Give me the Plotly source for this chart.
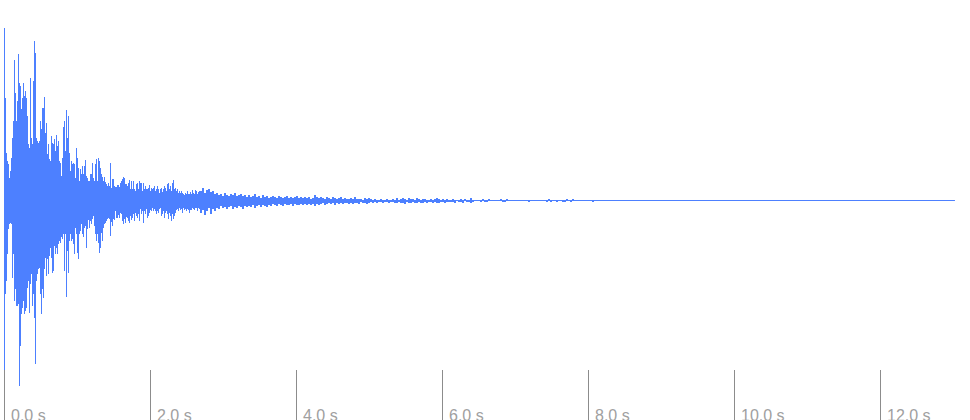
import plotly.graph_objects as go

# ---- data (amplitude in % of full scale) ----
# early section: one envelope column every 1/73 s starting at 0 s
early_rate = 73.0
early_top = [
    86.5, 51.5, 24, 20, 18.5, 11.5, 15, 21.5, 31.5, 40,
    70.5, 54, 40, 50, 73.5, 59, 57.5, 46, 51.5, 59,
    52.5, 55, 51.5, 42.5, 28.5, 26.5, 61.5, 31.5, 28.5, 60,
    80, 74, 31.5, 30, 29, 30, 40, 36, 46.5, 46.5,
    52, 34, 39, 23.5, 28.5, 21, 20, 32.5, 29, 28.5,
    31, 25, 33, 27.5, 30, 20, 19, 12.5, 21.5, 37,
    40, 25, 45.5, 31.5, 42.5, 24, 15, 20, 18.5, 19,
    18.5, 11.5, 26.5, 21.5, 16.5, 10, 16, 13.5, 17.5, 13.5,
    17.5, 20.5, 12.5, 11.5, 10, 10, 13.5, 13.5, 19, 11.5,
    10, 18.5, 21, 10, 21.5, 20, 16.5, 13.5, 12, 10,
    12, 9.5, 8.5, 7.5, 9, 7.5, 19, 6.5, 11, 11,
    7.5, 7, 7, 8, 8, 7, 9, 10, 11, 12,
    11.5, 8.5, 8.5, 7.5, 9, 10.5, 6, 10, 6, 10,
    6, 5, 8.5, 9, 6, 10, 9, 9, 5, 9,
    6, 7.5, 6, 6, 6.5, 8, 5, 6.5, 6, 6.5,
    7.5, 5, 6, 7.5, 6, 4, 6, 6.5, 4.5, 6,
    7.5, 6.5, 5, 8.5, 9, 6, 7.5, 5, 9, 10.5,
    6, 6.5, 5, 6, 4, 5, 4, 5, 4, 3.5,
    3, 4, 3.5, 5, 3.5, 3.5, 4.5, 3.5, 5.5, 4,
    3.5, 5.5, 5, 3.5, 4.5, 5,
]
early_bottom = [
    -100, -46.5, -40, -26.5, -14, -11.5, -11, -11.5, -38.5, -26.5,
    -50, -44, -52.5, -52.5, -51.5, -92.5, -72.5, -56.5, -53.5, -50,
    -56.5, -55, -53.5, -43.5, -40, -56, -41.5, -36.5, -52.5, -46.5,
    -58.5, -81.5, -40, -36.5, -34, -33.5, -46.5, -56.5, -44, -48.5,
    -34, -28.5, -37.5, -29, -36.5, -27.5, -23.5, -28.5, -36, -35,
    -22.5, -26.5, -23.5, -26.5, -21.5, -20, -21, -18, -19, -16.5,
    -35, -16.5, -48, -25, -36, -20, -16.5, -20, -19, -21.5,
    -26.5, -13.5, -16.5, -26, -29, -16.5, -15, -11.5, -16.5, -18,
    -13.5, -12.5, -23.5, -14, -9.5, -13.5, -10, -11.5, -9, -7.5,
    -12.5, -16.5, -20, -16.5, -21, -26, -23.5, -16, -20, -13.5,
    -11.5, -11, -10, -9, -8.5, -9, -17.5, -10.5, -12.5, -9,
    -9.5, -5, -8.5, -8.5, -7, -8.5, -6, -6.5, -10, -11.5,
    -9, -11, -8, -8.5, -10, -11, -7.5, -9.5, -8.5, -6.5,
    -10, -6, -7.5, -8.5, -6.5, -10, -4, -6.5, -5, -11,
    -5, -6.5, -4, -8.5, -7.5, -6, -4.5, -5, -3.5, -5,
    -4, -5, -6.5, -5, -6, -4, -3.5, -7.5, -6.5, -5,
    -8.5, -6, -5, -6.5, -9, -6, -7.5, -10, -6.5, -9,
    -7.5, -6, -4.5, -4, -5, -3.5, -4.5, -4, -6, -3.5,
    -4.5, -4, -5, -4, -4.5, -6, -4.5, -4.5, -3.5, -4,
    -4.5, -3.5, -3.5, -5, -3.5, -4,
]
# tail section: one envelope column every 2/73 s
tail_rate = 36.5
tail_top = [
    5, 6.5, 4, 5.5, 6, 4.5, 5, 3.5,
    4, 3, 3.5, 2.5, 4, 3, 2.5, 3.5, 3, 4, 2.5, 3, 3.5, 2.5, 3, 2,
    3, 2, 2.5, 3.5, 2, 2.5, 1.5, 3, 2, 2.5, 1.5, 2, 2.5,
    2, 1.5, 2.5, 2, 1.5, 2, 2.5, 1.5, 2, 1.5, 2, 2.5, 1.5, 2, 1.5, 2, 1.5, 2, 1, 1.5, 3, 2, 1.5, 2, 1.5, 1, 2,
    1.5, 1, 2, 1.5, 1, 1.5, 2, 1, 1.5, 1, 1, 1.5, 1, 2, 1, 1,
    1, 0.5, 1.5, 1, 1.5, 1, 0.5, 1, 0.5, 0.5, 1, 0.5, 0.5, 1, 0.5, 0.5, 1, 0.5, 1.5, 0.5,
    1, 1.5, 1, 0.5, 1.5, 1, 1, 0.5, 1.5, 1, 0.5, 1, 1, 0.5, 0.5, 1, 0.5, 1, 1.5, 1, 0.5, 1, 0.5, 1, 0.5,
    0.5, 1, 0.5, 0, 0.5, 1, 0.5, 0.5, 0, 0.5, 1.5, 0.5,
    0, 0, 0, 0.5, 0.5, 0, 0.5, 0.5, 0, 0, 0, 0, 0,
    0.5, 0, 0.5, 0.5, 0, 0, 0, 0, 0, 0, 0, 0, 0,
    0, 0.5, 0, 0, 0, 0, 0, 0, 0, 0, 0.5, 0.5,
    0, 0, 0, 0.5, 0, 0, 0.5, 0, 0.5, 0, 0.5, 0.5, 0, 0, 0, 0, 0, 0, 0, 0, 0, 0.5, 0, 0, 0,
]
tail_bottom = [
    -6, -4.5, -7, -5, -3.5, -6.5, -4, -5,
    -3.5, -4, -2.5, -3.5, -3, -4, -3, -2.5, -4, -3, -3.5, -2.5, -3, -4, -2.5, -3,
    -2.5, -3, -2, -3.5, -2.5, -2, -3, -2, -2.5, -3, -2, -2.5, -1.5,
    -2, -2.5, -1.5, -2, -2.5, -1.5, -2, -2, -1.5, -2.5, -1.5, -2, -2, -1.5, -2, -1.5, -2, -1.5, -2, -1.5, -2.5, -1.5, -2, -1.5, -1, -2, -1.5,
    -1, -1.5, -1, -2, -1, -1.5, -1, -1.5, -1, -1, -1.5, -1, -1.5, -1, -1, -1.5,
    -0.5, -1, -1, -1.5, -1, -0.5, -1, -0.5, -1, -0.5, -0.5, -1, -0.5, -0.5, -1, -0.5, -0.5, -1, -1, -0.5,
    -1, -1, -1.5, -0.5, -1, -1, -0.5, -1, -1, -0.5, -1, -1, -0.5, -1, -0.5, -0.5, -1, -0.5, -1, -1, -0.5, -0.5, -1, -0.5, -0.5,
    -0.5, -0.5, -1, 0, -0.5, -0.5, -1, 0, -0.5, -0.5, -1, -0.5,
    0, 0, 0, -0.5, 0, -0.5, -0.5, 0, 0, 0, 0, 0, 0,
    0, -0.5, -0.5, 0, 0, 0, 0, 0, 0, 0, 0, 0, 0,
    0, -0.5, 0, 0, 0, 0, 0, 0, 0, 0, -0.5, 0,
    -0.5, 0, 0, -0.5, 0, 0, -0.5, -0.5, 0, 0, -0.5, 0, 0, 0, 0, 0, 0, 0, 0, 0, 0, -0.5, 0, 0, 0,
]
duration_s = 13.02
tick_values = [0, 2, 4, 6, 8, 10, 12]
tick_labels = ["0.0 s", "2.0 s", "4.0 s", "6.0 s", "8.0 s", "10.0 s", "12.0 s"]

assert len(early_top) == len(early_bottom)
assert len(tail_top) == len(tail_bottom)

WAVE = "#4d80ff"

early_t = [i / early_rate for i in range(len(early_top))]
tail_start = len(early_top) / early_rate + 0.5 / early_rate
tail_t = [tail_start + j / tail_rate for j in range(len(tail_top))]

fig = go.Figure()
fig.add_trace(go.Scatter(
    x=[0, duration_s], y=[0, 0], mode="lines",
    line=dict(color=WAVE, width=1), hoverinfo="skip", showlegend=False,
))
fig.add_trace(go.Bar(
    x=early_t, base=early_bottom,
    y=[t - b for t, b in zip(early_top, early_bottom)],
    width=1 / early_rate, marker=dict(color=WAVE, line=dict(width=0)),
    showlegend=False,
))
fig.add_trace(go.Bar(
    x=tail_t, base=tail_bottom,
    y=[t - b for t, b in zip(tail_top, tail_bottom)],
    width=1 / tail_rate, marker=dict(color=WAVE, line=dict(width=0)),
    showlegend=False,
))

for v, lab in zip(tick_values, tick_labels):
    fig.add_shape(type="line", xref="x", yref="paper", x0=v, x1=v, y0=0, y1=50 / 420,
                  line=dict(color="#8c8c8c", width=1))
    fig.add_annotation(x=v, xref="x", y=0, yref="paper", text=lab, showarrow=False,
                       xanchor="left", yanchor="bottom", xshift=4, yshift=-6,
                       font=dict(family="Liberation Sans, Arial, sans-serif", size=16, color="#a0a0a0"))

fig.update_layout(
    width=970, height=420,
    margin=dict(l=0, r=0, t=0, b=0),
    paper_bgcolor="white", plot_bgcolor="white",
    barmode="overlay", bargap=0,
    xaxis=dict(range=[-4.5 / 73, 965.5 / 73], visible=False, fixedrange=True),
    yaxis=dict(range=[-109.75, 100.25], visible=False, fixedrange=True),
    showlegend=False,
)

fig.write_html("out.html", config={"displayModeBar": False},
               post_script="document.body.style.margin='0';document.body.style.overflow='hidden';")
